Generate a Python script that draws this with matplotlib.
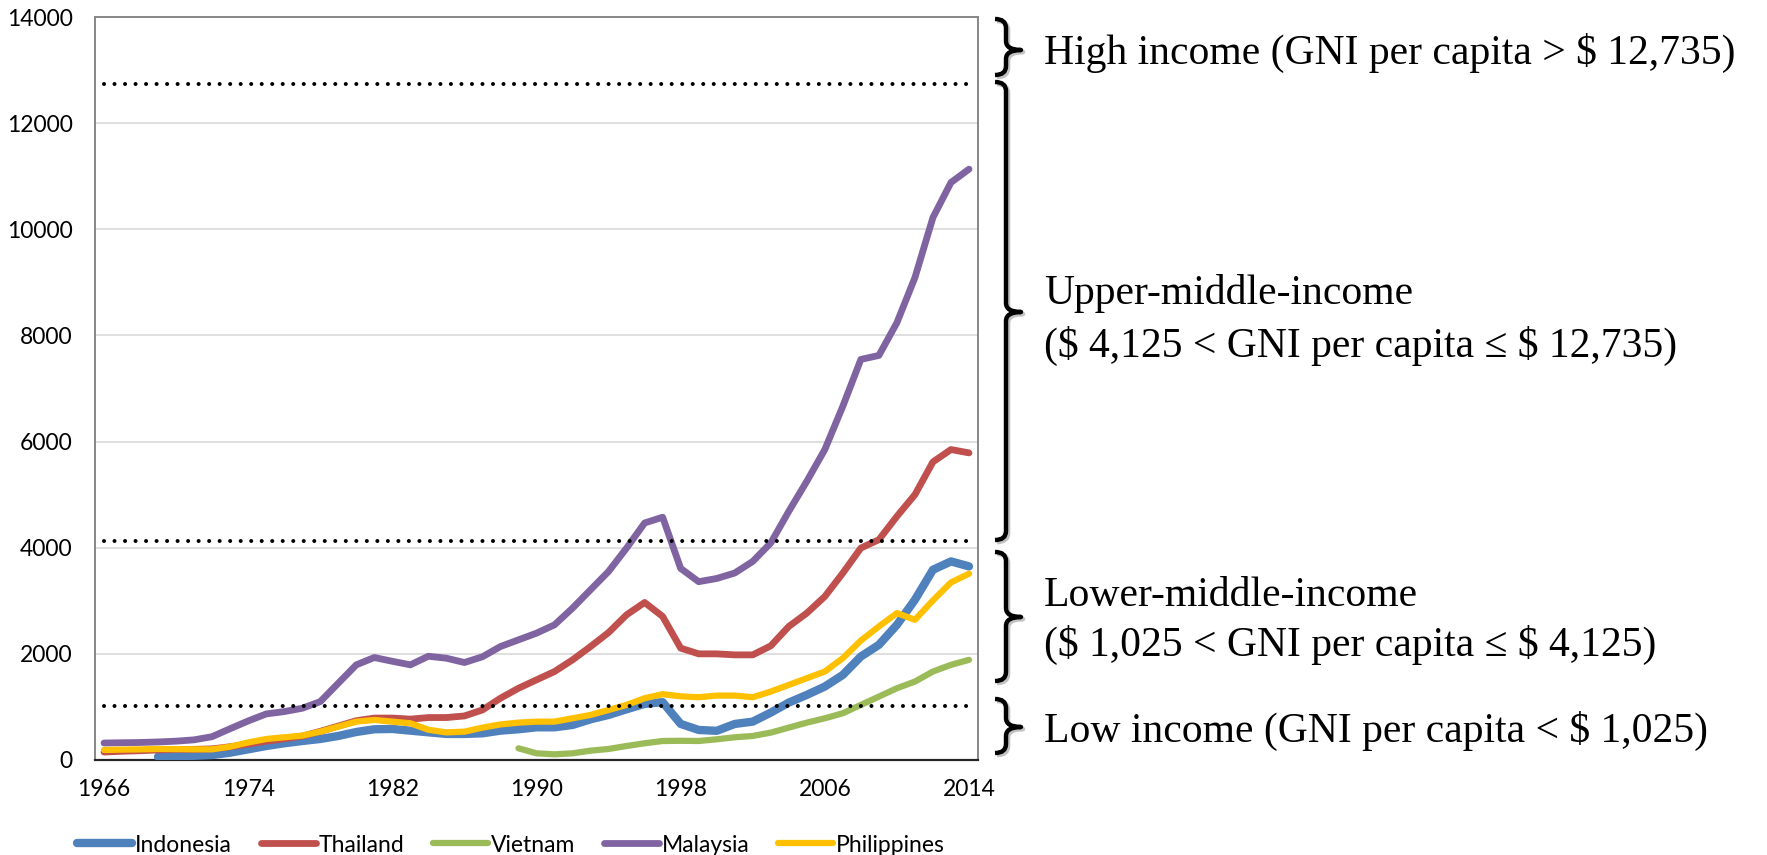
import numpy as np
import matplotlib
matplotlib.use("Agg")
import matplotlib.pyplot as plt
from matplotlib.path import Path
from matplotlib.patches import PathPatch
import matplotlib.patheffects as pe

# GNI per capita, Atlas method (current US$), 1966-2014
years = list(range(1966, 2015))
nan = np.nan

indonesia = [nan, nan, nan, 63, 70, 80, 94, 138, 201, 264,
             315, 358, 396, 453, 528, 579, 585, 553, 522, 491,
             491, 503, 553, 579, 616, 616, 660, 767, 849, 956,
             1057, 1090, 680, 566, 550, 679, 723, 893, 1082, 1227,
             1384, 1604, 1950, 2170, 2547, 3019, 3585, 3742, 3648]

thailand = [150, 165, 175, 190, 200, 200, 210, 250, 300, 355,
            400, 450, 540, 640, 740, 790, 790, 770, 800, 800,
            830, 943, 1164, 1352, 1510, 1667, 1887, 2138, 2402, 2736,
            2968, 2705, 2108, 2000, 2000, 1981, 1981, 2151, 2516, 2768,
            3081, 3523, 3994, 4151, 4591, 5000, 5617, 5850, 5787]

vietnam = [nan, nan, nan, nan, nan, nan, nan, nan, nan, nan,
           nan, nan, nan, nan, nan, nan, nan, nan, nan, nan,
           nan, nan, nan, 220, 126, 107, 126, 176, 208, 264,
           315, 358, 362, 358, 390, 428, 453, 516, 610, 704,
           786, 881, 1038, 1195, 1352, 1478, 1667, 1793, 1887]

malaysia = [320, 325, 330, 340, 355, 380, 440, 590, 736, 868,
            912, 975, 1100, 1447, 1793, 1931, 1860, 1793, 1955, 1918,
            1837, 1945, 2138, 2264, 2390, 2547, 2862, 3208, 3553, 3994,
            4466, 4575, 3610, 3360, 3420, 3523, 3742, 4089, 4686, 5252,
            5850, 6667, 7548, 7623, 8240, 9090, 10222, 10882, 11133]

philippines = [189, 195, 200, 208, 205, 201, 201, 251, 330, 396,
               428, 459, 534, 629, 723, 755, 723, 692, 570, 520,
               534, 610, 670, 704, 723, 723, 786, 849, 943, 1038,
               1164, 1240, 1200, 1183, 1214, 1214, 1183, 1289, 1415, 1541,
               1667, 1919, 2251, 2516, 2768, 2642, 3007, 3346, 3510]

country_names = ["Indonesia", "Thailand", "Vietnam", "Malaysia", "Philippines"]
country_values = [indonesia, thailand, vietnam, malaysia, philippines]

# income-group thresholds (US$)
thresholds = [12735, 4125, 1025]

ytick_values = list(range(0, 14001, 2000))
xtick_years = list(range(1966, 2015, 8))

band_labels = [
    ["High income (GNI per capita > $ 12,735)"],
    ["Upper-middle-income", "($ 4,125 < GNI per capita \u2264 $ 12,735)"],
    ["Lower-middle-income", "($ 1,025 < GNI per capita \u2264 $ 4,125)"],
    ["Low income (GNI per capita < $ 1,025)"],
]

# ---------------------------------------------------------------- styling
colors = ["#4F81BD", "#C0504D", "#9BBB59", "#8064A2", "#FFC000"]
widths = [6.0, 4.9, 4.5, 4.9, 4.5]
sans = ["Lato", "DejaVu Sans"]
serif = ["Liberation Serif", "DejaVu Serif"]
small = 16.5

W, H = 1767, 855
fig = plt.figure(figsize=(W / 100, H / 100), dpi=100, facecolor="white")
ax = fig.add_axes([95 / W, 1 - 760 / H, (978 - 95) / W, (760 - 17) / H])

handles = []
for name, vals, c, lw in zip(country_names, country_values, colors, widths):
    (ln,) = ax.plot(years, vals, color=c, lw=lw, label=name,
                    solid_capstyle="round", solid_joinstyle="round", zorder=3)
    handles.append(ln)

for t in thresholds:
    ax.plot([years[0], years[-1]], [t, t], color="black", lw=2.9,
            linestyle=(0, (0.01, 2.6)), dash_capstyle="round", zorder=5)

ax.set_xlim(years[0] - 0.5, years[-1] + 0.5)
ax.set_ylim(0, 14000)
ax.set_xticks(xtick_years)
ax.set_xticklabels([str(y) for y in xtick_years])
ax.set_yticks(ytick_values)
ax.set_yticklabels([str(v) for v in ytick_values])
ax.tick_params(axis="both", length=0, labelsize=small)
ax.tick_params(axis="y", pad=16)
ax.tick_params(axis="x", pad=14)
for lab in ax.get_xticklabels() + ax.get_yticklabels():
    lab.set_family(sans)

ax.yaxis.grid(True, color="#d9d9d9", lw=1.2)
ax.set_axisbelow(True)
for side in ("left", "top", "right"):
    ax.spines[side].set_color("#878787")
    ax.spines[side].set_linewidth(1.4)
ax.spines["bottom"].set_color("#262626")
ax.spines["bottom"].set_linewidth(1.6)

leg = fig.legend(handles, country_names, loc="center left",
                 bbox_to_anchor=(77 / W, 1 - 845 / H), ncol=5, frameon=False,
                 handlelength=2.4, handletextpad=0.13, columnspacing=1.25,
                 borderpad=0, borderaxespad=0, prop={"family": sans, "size": small})

# ------------------------------------------------- braces and band labels
over = fig.add_axes([0, 0, 1, 1], facecolor="none")
over.set_xlim(0, W)
over.set_ylim(H, 0)
over.axis("off")


def brace(y0, y1, ym, xh=995, xv=1006, xt=1021, r=9):
    verts = [(xh, y0), (xv, y0), (xv, y0 + r),
             (xv, ym - r),
             (xv, ym), (xt, ym),
             (xv, ym), (xv, ym + r),
             (xv, y1 - r),
             (xv, y1), (xh, y1)]
    codes = [Path.MOVETO, Path.CURVE3, Path.CURVE3,
             Path.LINETO,
             Path.CURVE3, Path.CURVE3,
             Path.CURVE3, Path.CURVE3,
             Path.LINETO,
             Path.CURVE3, Path.CURVE3]
    patch = PathPatch(Path(verts, codes), fill=False, lw=3.2, color="black",
                      capstyle="butt", joinstyle="round")
    patch.set_path_effects([pe.SimpleLineShadow(offset=(1.5, -1.5),
                                                shadow_color="#9a9a9a", alpha=0.6),
                            pe.Normal()])
    over.add_patch(patch)


brace_spans = [(19, 75, 50), (82, 540, 312), (552, 681, 617), (699, 753, 727)]
for (y0, y1, ym) in brace_spans:
    brace(y0, y1, ym)

label_baselines = [[64], [304, 357], [606, 656], [742]]
for lines, bases in zip(band_labels, label_baselines):
    for txt, yb in zip(lines, bases):
        over.text(1044, yb, txt, family=serif, fontsize=30, va="baseline",
                  ha="left", color="black", parse_math=False)

fig.savefig("out.png", dpi=100, facecolor="white")
